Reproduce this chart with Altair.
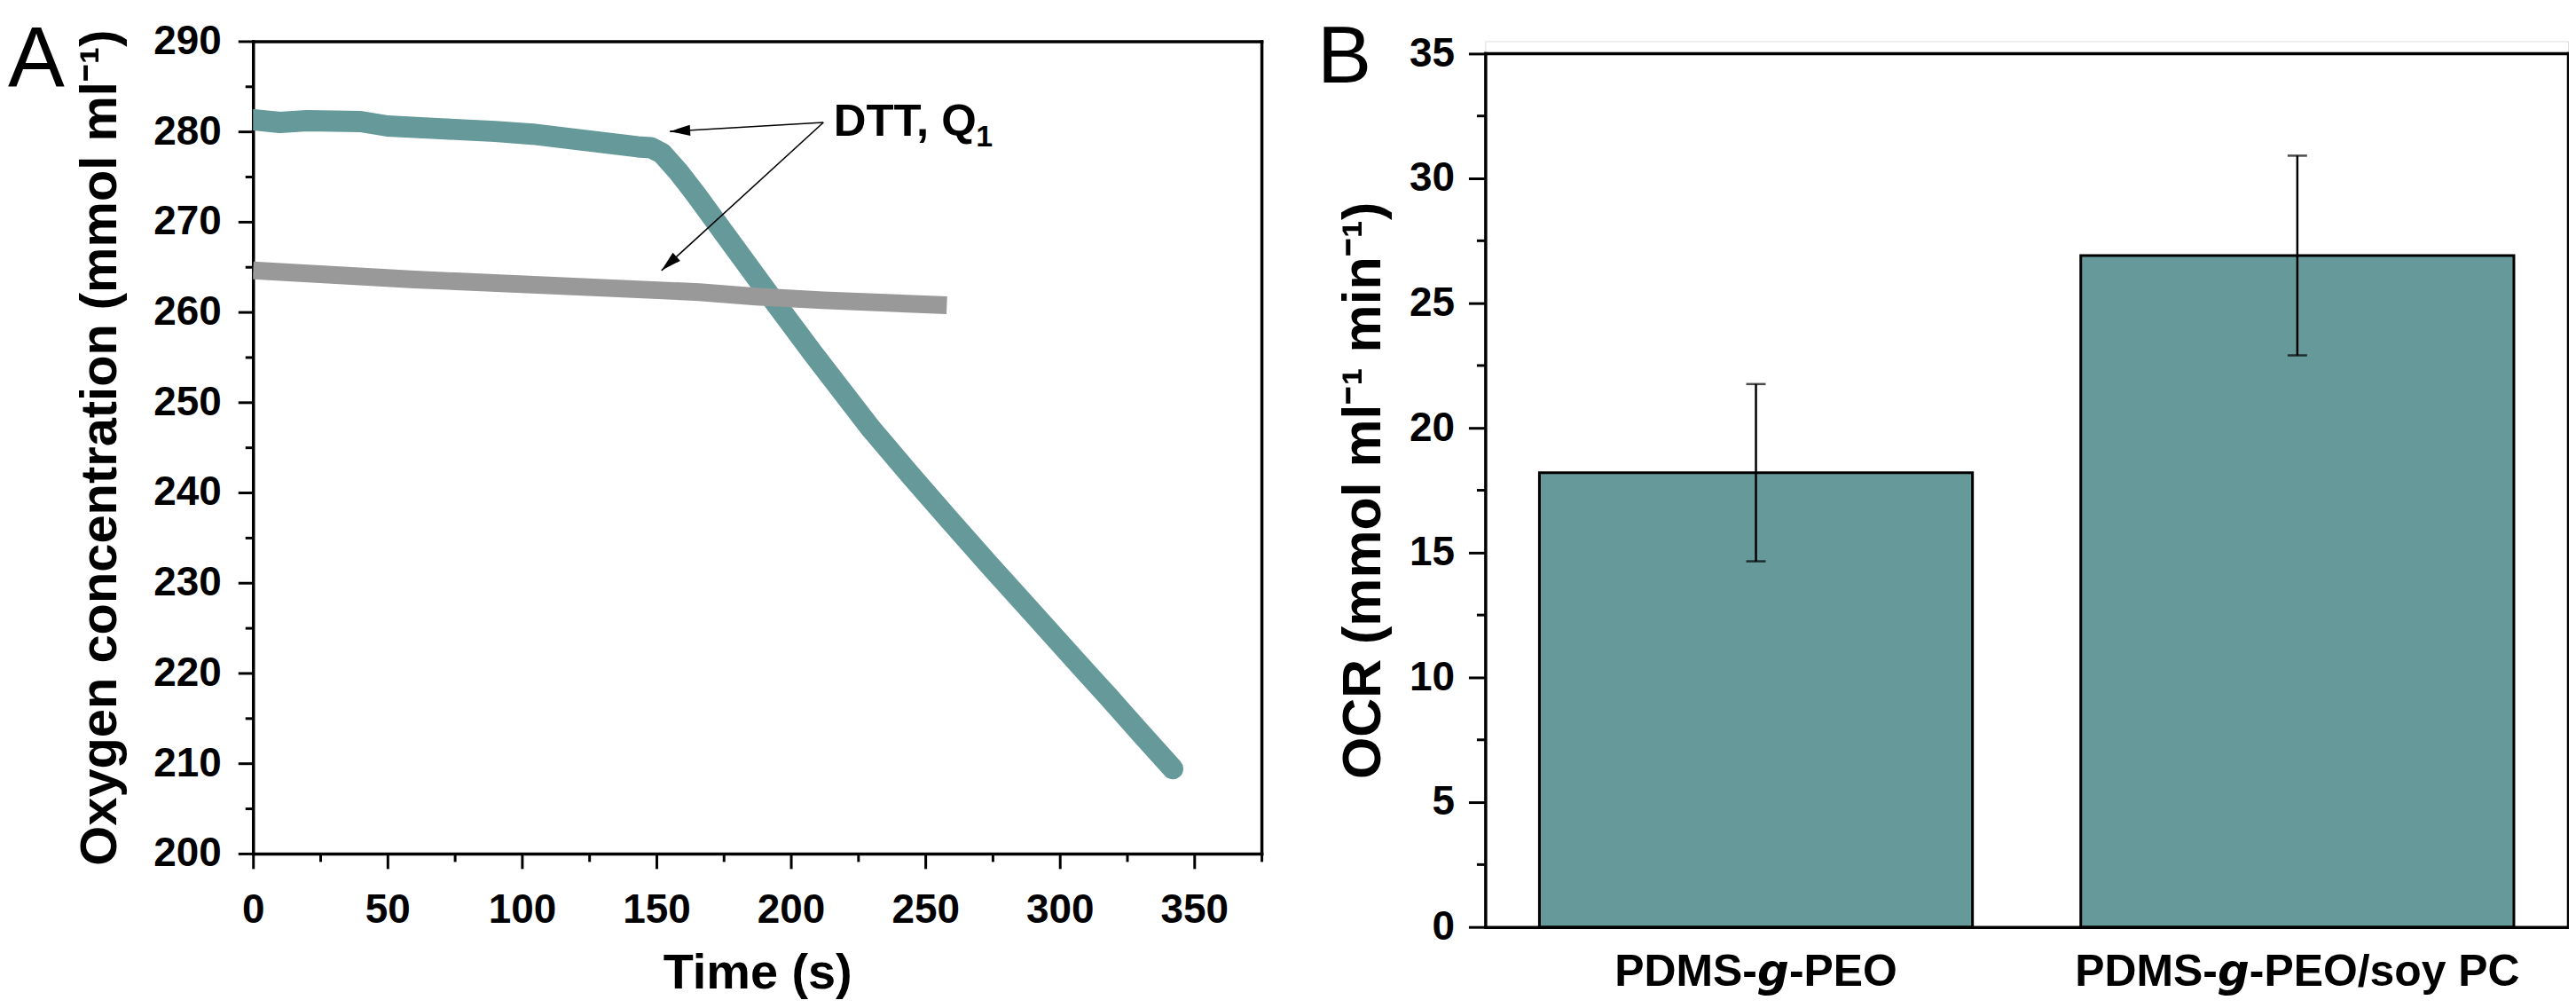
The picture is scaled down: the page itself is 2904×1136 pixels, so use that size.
import math
import altair as alt
import pandas as pd

# ---------------- data ----------------
teal_t = [0, 10, 20, 40, 50, 70, 90, 104, 121, 143, 148, 152, 158, 165, 176,
          191, 208.5, 230, 244, 258, 274, 288, 307, 318, 329, 342]
teal_v = [281.3, 281.0, 281.2, 281.1, 280.6, 280.3, 280.0, 279.7, 279.1, 278.3,
          278.2, 277.6, 275.6, 272.9, 268.4, 262.3, 255.3, 247.0, 242.1, 237.3,
          231.9, 227.3, 221.0, 217.4, 213.7, 209.4]
gray_t = [0, 60, 121, 166, 187, 212, 258]
gray_v = [264.6, 263.6, 262.8, 262.2, 261.7, 261.3, 260.75]

arrow_start = (212.1, 281.0)
arrow_tips_t = [155.0, 151.9]
arrow_tips_v = [280.0, 264.6]
annot_text = "DTT, Q"
annot_sub = "1"
annot_pos = (215.9, 279.57)

categories = ["PDMS-\U0001D65C-PEO", "PDMS-\U0001D65C-PEO/soy PC"]
ocr_mean = [18.2, 26.9]
ocr_err = [3.55, 4.0]

x_ticks_a = [0, 50, 100, 150, 200, 250, 300, 350]
x_minor_a = [25, 75, 125, 175, 225, 275, 325, 375]
y_ticks_a = [200, 210, 220, 230, 240, 250, 260, 270, 280, 290]
y_minor_a = [205, 215, 225, 235, 245, 255, 265, 275, 285]
y_ticks_b = [0, 5, 10, 15, 20, 25, 30, 35]
y_minor_b = [2.5, 7.5, 12.5, 17.5, 22.5, 27.5, 32.5]

# ---------------- styling ----------------
F = "Liberation Sans, Arial, sans-serif"
TEAL = "#669999"
GRAY = "#999999"
WA, HA = 1140, 918
WB, HB = 1224, 1001
B_TOP = 13.7          # offset of panel B's frame below panel A's frame top
XA_DOM = [0, 375]
YA_DOM = [200, 290]

def major_axis(values, title, tick, pad, tpad, tsize, lsize=46, **kw):
    return alt.Axis(values=values, title=title, tickSize=tick, tickWidth=3,
                    tickColor="black", domainColor="black", domainWidth=3.5,
                    domainCap="square",
                    labelFont=F, labelFontSize=lsize, labelFontWeight="bold",
                    labelColor="black", labelPadding=pad, labelFlush=False,
                    labelOverlap=False, labelLimit=0, titleFont=F,
                    titleFontSize=tsize, titleFontWeight="bold",
                    titleColor="black", titlePadding=tpad, grid=False, **kw)

def minor_axis(values, tick, orient):
    return alt.Axis(values=values, title=None, tickSize=tick, tickWidth=3,
                    tickColor="black", labels=False, domain=False, grid=False,
                    orient=orient)

def border_axis(orient, offset=0):
    return alt.Axis(orient=orient, title=None, ticks=False, labels=False,
                    grid=False, domain=True, domainColor="black",
                    domainWidth=3.5, domainCap="square", offset=offset)

# ---------------- panel A ----------------
teal_df = pd.DataFrame({"t": teal_t, "v": teal_v})
gray_df = pd.DataFrame({"t": gray_t, "v": gray_v})
xs = alt.Scale(domain=XA_DOM, nice=False, zero=False)
ys = alt.Scale(domain=YA_DOM, nice=False, zero=False)

teal = alt.Chart(teal_df).mark_line(color=TEAL, strokeWidth=24, strokeCap="round",
                                    strokeJoin="round", clip=True).encode(
    x=alt.X("t:Q", scale=xs,
            axis=major_axis(x_ticks_a, "Time (s)", 17, 25, 21, 56, orient="bottom")),
    y=alt.Y("v:Q", scale=ys,
            axis=major_axis(y_ticks_a, "Oxygen concentration (mmol ml\u207B\u00B9)",
                            17, 19, 30, 58, orient="left")),
)
gray = alt.Chart(gray_df).mark_line(color=GRAY, strokeWidth=20, strokeCap="butt",
                                    clip=True).encode(
    x=alt.X("t:Q", scale=xs, axis=minor_axis(x_minor_a, 9, "bottom")),
    y=alt.Y("v:Q", scale=ys, axis=minor_axis(y_minor_a, 9, "left")),
)

px_x = WA / (XA_DOM[1] - XA_DOM[0])
px_y = HA / (YA_DOM[1] - YA_DOM[0])
arr_rows = []
for tt, tv in zip(arrow_tips_t, arrow_tips_v):
    dx = (tt - arrow_start[0]) * px_x
    dy = -(tv - arrow_start[1]) * px_y
    ang = math.degrees(math.atan2(dx, -dy)) % 360
    arr_rows.append({"t0": arrow_start[0], "v0": arrow_start[1],
                     "t1": tt, "v1": tv, "ang": ang})
arr_df = pd.DataFrame(arr_rows)

arrow_lines = alt.Chart(arr_df).mark_rule(color="black", strokeWidth=1.6).encode(
    x=alt.X("t0:Q", scale=xs, axis=border_axis("top")),
    y=alt.Y("v0:Q", scale=ys, axis=border_axis("right")),
    x2="t1:Q", y2="v1:Q")
arrow_heads = alt.Chart(arr_df).mark_point(
    shape="M0,0L0.27,1L-0.27,1Z", filled=True, color="black", opacity=1,
    size=2116, strokeWidth=0).encode(
    x=alt.X("t1:Q", scale=xs, axis=None), y=alt.Y("v1:Q", scale=ys, axis=None),
    angle=alt.Angle("ang:Q", scale=None))
annot_df = pd.DataFrame({"t": [annot_pos[0]], "v": [annot_pos[1]],
                         "s": [annot_text], "sub": [annot_sub]})
annot = alt.Chart(annot_df).mark_text(
    align="left", baseline="alphabetic", font=F, fontSize=51,
    fontWeight="bold", color="black").encode(
    x=alt.X("t:Q", scale=xs, axis=None), y=alt.Y("v:Q", scale=ys, axis=None),
    text="s:N")
annot_subscript = alt.Chart(annot_df).mark_text(
    align="left", baseline="alphabetic", font=F, fontSize=34,
    fontWeight="bold", color="black", dx=161, dy=13).encode(
    x=alt.X("t:Q", scale=xs, axis=None), y=alt.Y("v:Q", scale=ys, axis=None),
    text="sub:N")
label_a = alt.Chart(pd.DataFrame({"s": ["A"]})).mark_text(
    align="left", baseline="alphabetic", font=F, fontSize=96,
    fontWeight="normal", color="black").encode(
    x=alt.value(-277), y=alt.value(51), text="s:N")

panel_a = alt.layer(teal, gray, arrow_lines, arrow_heads, annot, annot_subscript,
                    label_a).resolve_axis(
    x="independent", y="independent").properties(width=WA, height=HA)

# ---------------- panel B ----------------
bar_df = pd.DataFrame({"cat": categories, "m": ocr_mean,
                       "lo": [m - e for m, e in zip(ocr_mean, ocr_err)],
                       "hi": [m + e for m, e in zip(ocr_mean, ocr_err)]})
cap_df = pd.DataFrame({"cat": categories * 2,
                       "y": [m - e for m, e in zip(ocr_mean, ocr_err)]
                            + [m + e for m, e in zip(ocr_mean, ocr_err)]})

xb_scale = alt.Scale(domain=categories, paddingInner=0.2, paddingOuter=0.1)
yb_scale = alt.Scale(domain=[0, 35], nice=False, range=[HB, B_TOP])
xb_axis = alt.Axis(title=None, ticks=False, labelAngle=0, labelFont=F,
                   labelFontSize=50, labelFontWeight="bold", labelColor="black",
                   labelPadding=26, labelLimit=0, domainColor="black",
                   domainWidth=3.5, domainCap="square", grid=False,
                   orient="bottom")

bars = alt.Chart(bar_df).mark_bar(color=TEAL, stroke="black", strokeWidth=3).encode(
    x=alt.X("cat:N", scale=xb_scale, sort=categories, axis=xb_axis),
    y=alt.Y("m:Q", scale=yb_scale,
            axis=major_axis(y_ticks_b, "OCR (mmol ml\u207B\u00B9 min\u207B\u00B9)",
                            19, 16, 20, 61, orient="left")))
err_rule = alt.Chart(bar_df).mark_rule(color="black", strokeWidth=2.5).encode(
    x=alt.X("cat:N", scale=xb_scale, sort=categories, axis=None),
    y=alt.Y("lo:Q", scale=yb_scale, axis=minor_axis(y_minor_b, 10, "left")),
    y2="hi:Q")
caps = alt.Chart(cap_df).mark_tick(color="black", thickness=2.5, size=22).encode(
    x=alt.X("cat:N", scale=xb_scale, sort=categories,
            axis=border_axis("top", offset=-B_TOP)),
    y=alt.Y("y:Q", scale=yb_scale, axis=border_axis("right")))
label_b = alt.Chart(pd.DataFrame({"s": ["B"]})).mark_text(
    align="left", baseline="alphabetic", font=F, fontSize=92,
    fontWeight="normal", color="black").encode(
    x=alt.value(-190), y=alt.value(47), text="s:N")

panel_b = alt.layer(bars, err_rule, caps, label_b).resolve_axis(
    x="independent", y="independent").properties(width=WB, height=HB)

chart = alt.hconcat(panel_a, panel_b, spacing=60).properties(
    padding={"left": 0, "top": 9, "right": 0, "bottom": 0}
).configure_view(stroke=None).configure(background="white")

chart.save("out.html", embed_options={"renderer": "svg", "actions": False})
